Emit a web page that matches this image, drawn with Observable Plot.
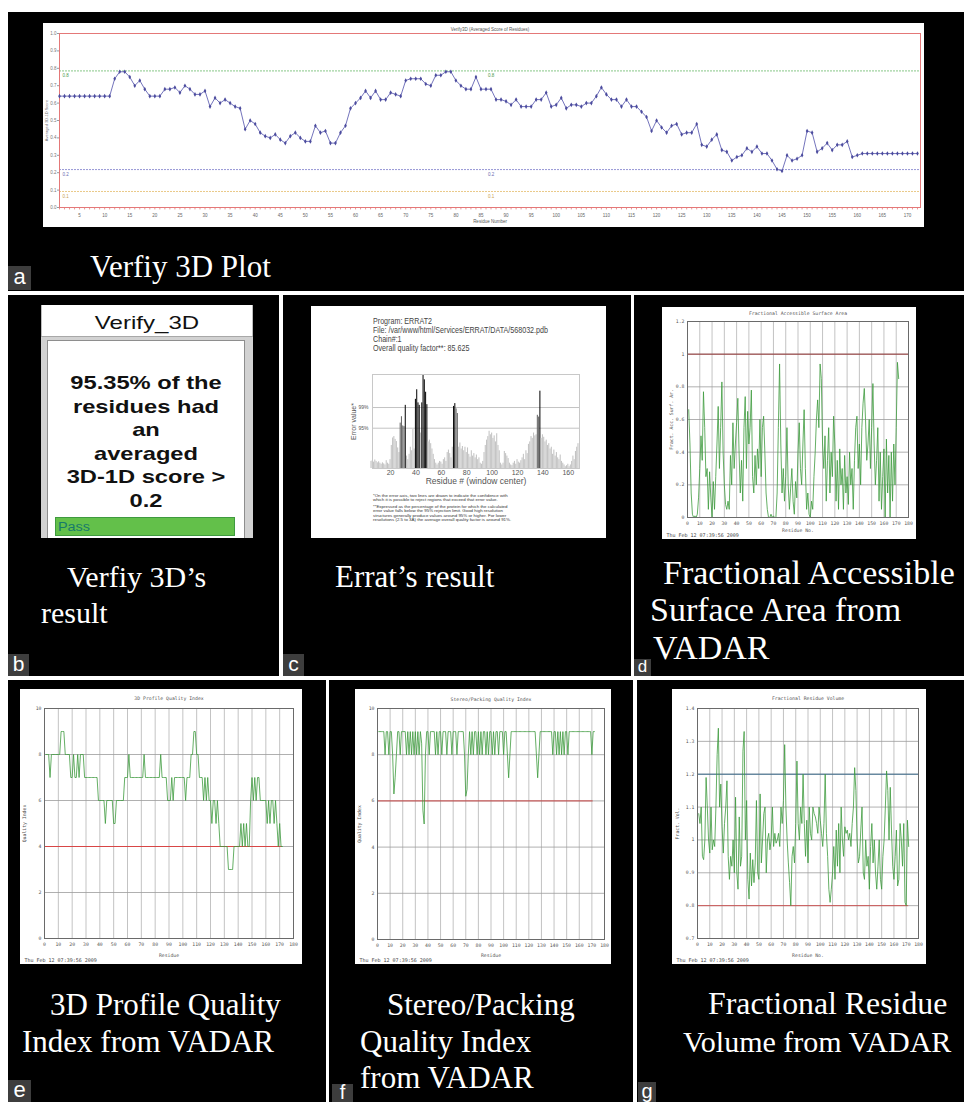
<!DOCTYPE html>
<html><head><meta charset="utf-8">
<script src="https://cdn.jsdelivr.net/npm/d3@7"></script>
<script src="https://cdn.jsdelivr.net/npm/@observablehq/plot@0.6"></script>
<style>
html,body{margin:0;padding:0;background:#fff;overflow:hidden;}
#page{position:relative;width:964px;height:1102px;overflow:hidden;background:#fff;}
</style></head>
<body><div id="page"></div>
<script>
// ---------- DATA ----------
// Panel a: Verify3D averaged 3D-1D score per residue (1..172)
const verifyScores = [0.64,0.64,0.64,0.64,0.64,0.64,0.64,0.64,0.64,0.64,0.64,
0.74,0.78,0.78,0.75,0.70,0.73,0.68,0.64,0.64,0.64,
0.68,0.68,0.69,0.66,0.70,0.68,0.65,0.65,0.67,0.58,
0.63,0.60,0.62,0.60,0.58,0.57,0.45,0.50,0.48,0.43,
0.41,0.40,0.42,0.39,0.37,0.41,0.43,0.40,0.38,0.38,
0.47,0.43,0.44,0.37,0.37,0.43,0.47,0.57,0.60,0.63,
0.67,0.63,0.67,0.62,0.62,0.66,0.65,0.64,0.73,0.74,
0.74,0.74,0.71,0.70,0.76,0.76,0.78,0.78,0.73,0.70,
0.68,0.68,0.75,0.68,0.68,0.68,0.62,0.62,0.61,0.59,
0.62,0.58,0.58,0.58,0.62,0.62,0.66,0.58,0.59,0.63,
0.57,0.59,0.59,0.58,0.60,0.60,0.64,0.69,0.65,0.62,
0.62,0.58,0.62,0.58,0.58,0.55,0.52,0.44,0.50,0.46,
0.43,0.47,0.48,0.42,0.43,0.43,0.48,0.36,0.35,0.39,
0.42,0.33,0.32,0.27,0.29,0.30,0.34,0.32,0.35,0.31,
0.31,0.27,0.22,0.21,0.30,0.27,0.28,0.30,0.44,0.43,
0.32,0.34,0.37,0.33,0.36,0.36,0.38,0.29,0.30,0.31,
0.31,0.31,0.31,0.31,0.31,0.31,0.31,0.31,0.31,0.31,0.31];
const verifyTicksY = [0,0.1,0.2,0.3,0.4,0.5,0.6,0.7,0.8,0.9,1.0];
const verifyTicksX = [5,10,15,20,25,30,35,40,45,50,55,60,65,70,75,80,85,90,95,100,105,110,115,120,125,130,135,140,145,150,155,160,165,170];
const verifyThresholds = [0.785, 0.218, 0.092];
const verifyThresholdLabels = ["0.8", "0.2", "0.1"];

// Panel b: Verify_3D result text
const verifyResultLines = ["95.35% of the", "residues had", "an", "averaged", "3D-1D score >", "0.2"];

// Panel c: ERRAT error values, window centres 5..168
const erratStart = 5;
const erratValues = [2.0,2.2,1.8,2.4,2.0,1.6,1.9,1.5,1.2,1.6,
1.3,1.0,2.2,1.5,1.2,2.5,6.5,8.6,9.0,8.2,
7.6,5.8,4.5,12.8,14.6,12.0,11.8,17.8,3.5,2.5,
4.0,6.0,5.0,11.0,5.5,19.5,22.2,18.5,17.8,10.0,
18.5,26.3,25.0,21.5,18.0,7.5,8.0,7.0,5.5,4.0,
2.5,1.5,1.0,1.5,2.0,1.8,1.2,2.5,3.0,2.0,
4.5,5.2,4.2,3.0,6.0,17.5,18.3,16.8,15.5,6.0,
7.2,5.5,6.2,5.0,6.0,4.5,5.8,4.0,3.2,5.0,
3.5,4.2,3.0,3.8,2.5,3.0,1.5,1.2,2.0,4.5,
6.5,8.0,9.0,10.5,9.5,10.0,8.5,9.2,7.5,9.8,
6.5,5.0,1.5,1.0,1.5,4.8,4.2,3.5,2.8,1.5,
1.0,0.8,1.5,2.0,1.2,2.5,1.8,1.5,2.2,3.0,
4.0,2.5,5.0,4.2,6.8,7.5,9.0,8.5,10.0,9.2,
9.5,15.0,14.5,21.8,8.5,9.5,8.8,7.5,8.0,6.5,
7.0,5.5,6.0,4.0,5.2,3.5,4.5,3.0,2.5,3.8,
2.0,1.5,1.0,0.5,0.8,1.2,0.5,1.0,2.0,3.5,
2.5,4.8,6.0,7.0];
const erratLimits = [11.36, 17.19];
const erratLimitLabels = ["95%", "99%"];
const erratTicksX = [20,40,60,80,100,120,140,160];
const erratHeader = ["Program: ERRAT2", "File: /var/www/html/Services/ERRAT/DATA/568032.pdb", "Chain#:1", "Overall quality factor**: 85.625"];
const erratNotes = ["*On the error axis, two lines are drawn to indicate the confidence with",
"which it is possible to reject regions that exceed that error value.",
"**Expressed as the percentage of the protein for which the calculated",
"error value falls below the 95% rejection limit. Good high resolution",
"structures generally produce values around 95% or higher. For lower",
"resolutions (2.5 to 3A) the average overall quality factor is around 91%."];

// Panel d: VADAR fractional accessible surface area (residues 1..172)
const fasaValues = [0.66,0.45,0.15,0.02,0.0,0.01,0.0,0.02,0.12,0.30,
0.50,0.35,0.77,0.55,0.25,0.30,0.05,0.28,0.12,0.0,
0.22,0.05,0.25,0.45,0.68,0.30,0.55,0.83,0.40,0.20,
0.08,0.05,0.10,0.05,0.38,0.20,0.58,0.30,0.45,0.58,
0.73,0.40,0.15,0.35,0.10,0.55,0.74,0.30,0.65,0.45,
0.55,0.78,0.25,0.15,0.38,0.20,0.42,0.30,0.60,0.25,
0.55,0.62,0.40,0.15,0.05,0.0,0.0,0.02,0.0,0.01,
0.0,0.0,0.15,0.55,0.94,0.45,0.15,0.30,0.10,0.25,
0.55,0.20,0.05,0.18,0.30,0.10,0.02,0.22,0.12,0.40,
0.58,0.30,0.20,0.45,0.66,0.30,0.05,0.15,0.02,0.0,
0.10,0.05,0.25,0.40,0.60,0.72,0.55,0.94,0.85,0.45,
0.30,0.50,0.10,0.35,0.55,0.15,0.40,0.25,0.62,0.45,
0.10,0.35,0.05,0.42,0.20,0.30,0.05,0.38,0.15,0.25,
0.08,0.40,0.20,0.30,0.05,0.35,0.55,0.62,0.30,0.45,
0.20,0.55,0.70,0.79,0.60,0.35,0.45,0.60,0.30,0.55,
0.82,0.45,0.20,0.35,0.55,0.10,0.40,0.05,0.25,0.42,
0.0,0.48,0.15,0.38,0.0,0.40,0.10,0.45,0.20,0.55,
0.95,0.85];

// Panel e: VADAR 3D profile quality index
const profileValues = [8,8,8,7,8,8,8,8,8,8,
8,9,9,9,8,8,8,8,7,7,
8,7,7,8,7,8,8,8,7,7,
7,7,7,7,7,7,7,7,6,6,
6,6,6,5,6,6,6,6,6,5,
5,6,6,6,6,6,6,7,7,7,
8,7,7,7,7,7,7,7,7,7,
7,8,7,7,7,7,7,7,7,7,
7,7,7,8,7,7,7,7,6,6,
6,7,6,7,7,7,7,7,7,7,
7,6,7,7,7,8,8,9,9,8,
8,7,7,7,6,7,6,7,6,6,
5,6,6,5,6,5,4,4,4,4,
4,4,3,3,3,3,4,4,4,4,
4,5,4,5,4,5,4,4,6,7,
6,7,6,7,7,6,6,6,6,6,
5,6,5,6,6,5,6,5,4,5,
4,4];

// Panel f: VADAR stereo/packing quality index
const stereoValues = [9,9,9,9,9,8,9,9,8,9,
9,8,6.3,7,8,9,9,8,9,9,
9,9,8,9,8,9,8,9,8,9,
8,9,8,9,8.5,5.6,5,8,9,9,
8,9,9,9,9,8,9,8,9,9,
8,9,9,9,8,9,9,9,8,9,
9,9,8,9,9,9,9,9,8,6.2,
6.5,8,9,8,9,8,9,9,8,9,
8,9,8,9,9,8,9,8,9,9,
8,9,8,9,9,8,9,9,9,8,
9,9,8,7,8,9,9,9,9,9,
9,9,9,9,9,9,9,9,9,9,
9,9,9,9,9,8,7,8,9,9,
9,9,9,9,9,9,9,9,8,9,
9,8,9,8,9,8,9,8,9,9,
8,9,9,9,9,9,9,9,9,9,
9,9,9,9,9,9,9,9,9,8,
9,9];

// Panel g: VADAR fractional residue volume
const volumeValues = [1.08,1.05,1.10,0.95,0.94,1.00,1.19,1.10,1.00,0.96,
1.10,0.97,1.00,0.98,1.10,1.26,1.34,1.10,1.17,1.04,
0.96,1.05,1.10,1.18,0.95,0.88,0.95,0.92,1.00,0.90,
1.13,0.90,0.85,1.07,0.92,0.95,1.27,1.33,1.00,1.12,
0.88,0.82,0.96,0.86,0.94,0.87,0.93,1.12,0.90,0.88,
1.14,0.93,1.00,1.08,1.10,0.90,1.00,1.02,0.97,1.00,
1.10,0.98,1.02,0.99,1.00,1.02,0.98,1.10,1.05,1.12,
1.29,1.10,1.00,0.93,0.87,0.80,0.95,0.98,0.93,1.05,
1.24,1.05,1.00,1.10,1.05,1.20,1.05,0.95,1.06,0.93,
1.10,1.02,1.00,1.10,1.08,1.07,1.05,1.02,1.10,1.06,
1.02,0.98,1.05,1.20,1.02,0.95,0.85,0.81,0.85,0.90,
0.98,0.88,1.03,0.92,1.05,0.90,1.10,1.00,0.95,1.04,
1.02,1.03,1.00,1.02,0.98,1.05,1.10,1.22,1.15,1.00,
0.93,0.95,1.03,1.10,0.90,0.88,1.00,0.92,0.95,0.85,
0.98,1.05,0.93,1.00,0.90,0.85,0.92,1.00,0.88,0.85,
0.95,1.00,1.10,1.21,1.15,1.00,1.16,1.03,0.92,0.88,
0.95,1.03,0.86,0.88,1.05,1.00,0.92,1.05,0.81,0.80,
1.06,0.98];

const vadarTicksX = [0,10,20,30,40,50,60,70,80,90,100,110,120,130,140,150,160,170,180];
const fasaTicksY = [0,0.2,0.4,0.6,0.8,1.0,1.2];
const qualityTicksY = [0,2,4,6,8,10];
const volumeTicksY = [0.7,0.8,0.9,1.0,1.1,1.2,1.3,1.4];
const vadarStamp = "Thu Feb 12 07:39:56 2009";

// ---------- HELPERS ----------
const page = document.getElementById("page");
function el(tag, css, parent = page) {
  const e = document.createElement(tag);
  Object.assign(e.style, {position: "absolute"}, css);
  parent.appendChild(e);
  return e;
}
function rect(x, y, w, h, css = {}) {
  return el("div", Object.assign({left: x + "px", top: y + "px", width: w + "px", height: h + "px"}, css));
}
function text(s, x, base, size, o = {}) {
  const fam = o.font || "'Liberation Serif','Times New Roman',serif";
  const d = el("div", {left: x + "px", top: (base - 0.84 * size) + "px", fontSize: size + "px", lineHeight: "1",
    fontFamily: fam, color: o.color || "#fff", whiteSpace: "pre", fontWeight: o.weight || "normal"});
  d.textContent = s;
  const sx = o.sx || 1;
  if (o.anchor === "middle") { d.style.transform = `translateX(-50%) scaleX(${sx})`; }
  else if (sx !== 1) { d.style.transformOrigin = "0 0"; d.style.transform = `scaleX(${sx})`; }
  return d;
}
function put(svg, x, y) {
  svg.style.position = "absolute"; svg.style.left = x + "px"; svg.style.top = y + "px"; svg.style.maxWidth = "none";
  page.appendChild(svg);
}
function tag(letter, x, y, w, h, size) {
  const d = rect(x, y, w, h, {background: "#3d3d3d", color: "#fff", fontFamily: "'Liberation Sans',Arial,sans-serif",
    fontSize: size + "px", lineHeight: (h - 2) + "px", textAlign: "center"});
  d.textContent = letter;
}
const fmt1 = d => String(+d.toFixed(1));

// ---------- BLACK PANELS ----------
rect(8, 12, 956, 279, {background: "#000"});
rect(8, 295, 271, 381, {background: "#000"});
rect(283, 295, 348, 381, {background: "#000"});
rect(634, 295, 330, 381, {background: "#000"});
rect(8, 680, 318, 422, {background: "#000"});
rect(329, 680, 304, 422, {background: "#000"});
rect(637, 680, 327, 422, {background: "#000"});

// ---------- PANEL a : Verify3D plot ----------
const verifyData = verifyScores.map((v, i) => ({r: i + 1, v}));
const thrColors = ["#78c078", "#8a8ad0", "#e8c47c"];
const thrText = ["#4a9a4a", "#6a6ab0", "#c8a050"];
const aMarks = [];
verifyThresholds.forEach((t, i) => {
  aMarks.push(Plot.ruleY([t], {stroke: thrColors[i], strokeWidth: 0.9, strokeDasharray: "2,1"}));
  aMarks.push(Plot.text([verifyThresholdLabels[i]], {text: d => d, y: () => t, frameAnchor: "left", dx: 3, dy: 5, fontSize: 4.5, fill: thrText[i], textAnchor: "start"}));
  aMarks.push(Plot.text([verifyThresholdLabels[i]], {text: d => d, y: () => t, frameAnchor: "middle", dx: -2, dy: 5, fontSize: 4.5, fill: thrText[i], textAnchor: "start"}));
});
const aPlot = Plot.plot({
  width: 881, height: 204, marginLeft: 16, marginRight: 4, marginTop: 10, marginBottom: 20,
  style: {background: "#fff", fontFamily: "'Liberation Sans',Arial,sans-serif", fontSize: "5px", color: "#666"},
  x: {domain: [1, 172.6], label: null}, y: {domain: [0, 1], label: null},
  marks: [
    ...aMarks,
    Plot.ruleX(verifyData, {x: "r", y1: () => 0, y2: () => -0.014, stroke: "#e47878", strokeWidth: 0.8}),
    Plot.frame({stroke: "#e47878", strokeWidth: 1}),
    Plot.axisY(verifyTicksY, {tickSize: 2, tickPadding: 1, tickFormat: d => d.toFixed(1), fontSize: 4.5, stroke: "#999", fill: "#777", label: null}),
    Plot.axisX(verifyTicksX, {tickSize: 0, tickPadding: 6, fontSize: 4.5, fill: "#666", label: null}),
    Plot.line(verifyData, {x: "r", y: "v", stroke: "#6464b4", strokeWidth: 0.9}),
    Plot.dot(verifyData, {x: "r", y: "v", r: 1.4, fill: "#4c4c9e", symbol: "diamond"}),
    Plot.text(["Verify3D (Averaged Score of Residues)"], {text: d => d, frameAnchor: "top", dy: -4, fontSize: 4.5, fill: "#555", lineAnchor: "middle"}),
    Plot.text(["Residue Number"], {text: d => d, frameAnchor: "bottom", dy: 14.5, fontSize: 4.5, fill: "#555", lineAnchor: "middle"}),
    Plot.text(["Averaged 3D-1D Score"], {text: d => d, frameAnchor: "left", dx: -13, rotate: -90, fontSize: 4, fill: "#777", textAnchor: "middle", lineAnchor: "middle"})
  ]
});
put(aPlot, 43, 23);
text("Verfiy 3D Plot", 90, 277, 31);
tag("a", 8, 266, 23, 24, 22);

// ---------- PANEL b : Verify_3D result box ----------
rect(41, 305, 212, 233, {background: "#fff", borderLeft: "1px solid #bdbdbd", borderRight: "1px solid #bdbdbd", boxSizing: "border-box"});
rect(41, 336, 212, 202, {background: "#d2d2d2", borderTop: "1px solid #a8a8a8", boxSizing: "border-box"});
rect(47, 340, 198, 198, {background: "#fff", border: "1px solid #8e8e8e", borderBottom: "none", boxSizing: "border-box"});
text("Verify_3D", 147, 330, 18.5, {font: "'Liberation Sans',Arial,sans-serif", color: "#111", anchor: "middle", sx: 1.3});
verifyResultLines.forEach((s, i) => {
  text(s, 146, 390 + i * 23.5, 18.5, {font: "'Liberation Sans',Arial,sans-serif", color: "#111", weight: "bold", anchor: "middle", sx: 1.28});
});
rect(55, 517, 180, 19, {background: "#63c04a", border: "1px solid #3f9a3f", boxSizing: "border-box"});
text("Pass", 58, 531, 12, {font: "'Liberation Sans',Arial,sans-serif", color: "#177a6a", sx: 1.2});
text("Verfiy 3D\u2019s", 67, 587, 30);
text("result", 41, 623, 30);
tag("b", 8, 654, 21, 22, 21);

// ---------- PANEL c : ERRAT ----------
const erratData = erratValues.map((v, i) => ({r: erratStart + i, v}));
const erratShade = v => v > erratLimits[1] ? "#111111" : v > erratLimits[0] ? "#6b6b6b" : "#c4c4c4";
const cPlot = Plot.plot({
  width: 295, height: 232, marginLeft: 61, marginRight: 27, marginTop: 68, marginBottom: 70,
  style: {background: "#fff", fontFamily: "'Liberation Sans',Arial,sans-serif", fontSize: "7px", color: "#555"},
  x: {domain: [5.8, 168.8], label: null}, y: {domain: [0, 26.5], label: null}, color: {type: "identity"},
  marks: [
    Plot.ruleY(erratLimits, {stroke: "#b4b4b4", strokeWidth: 0.8}),
    Plot.rectY(erratData, {x1: d => d.r - 0.5, x2: d => d.r + 0.5, y: "v", fill: d => erratShade(d.v), insetLeft: 0.1, insetRight: 0.1}),
    Plot.frame({stroke: "#c8c8c8"}),
    Plot.axisX(erratTicksX, {tickSize: 0, tickPadding: 1.5, fontSize: 7, fill: "#555", label: null}),
    Plot.axisY(erratLimits, {tickSize: 0, tickPadding: 4, tickFormat: d => erratLimitLabels[erratLimits.indexOf(d)], fontSize: 5, fill: "#555", label: null}),
    Plot.text(["Residue # (window center)"], {text: d => d, frameAnchor: "bottom", dy: 12.5, fontSize: 8.5, fill: "#555", lineAnchor: "middle"}),
    Plot.text(["Error value*"], {text: d => d, frameAnchor: "left", dx: -19, rotate: -90, fontSize: 7, fill: "#555", textAnchor: "middle", lineAnchor: "middle"})
  ]
});
put(cPlot, 311, 306);
erratHeader.forEach((s, i) => text(s, 373, 324 + i * 9, 8.5, {font: "'Liberation Sans',Arial,sans-serif", color: "#444", sx: 0.84}));
erratNotes.forEach((s, i) => text(s, 373, 497.5 + i * 4.6 + (i >= 2 ? 1.6 : 0), 4.4, {font: "'Liberation Sans',Arial,sans-serif", color: "#333"}));
text("Errat\u2019s result", 335, 587, 31);
tag("c", 283, 654, 21, 22, 21);

// ---------- VADAR charts ----------
function vadarPlot(o) {
  const data = o.values.map((v, i) => ({r: i + 1, v}));
  const refMarks = o.refs.map(([v, c, end]) => Plot.ruleY([v], {x1: () => 0, x2: () => end, stroke: c, strokeWidth: 1}));
  return Plot.plot({
    width: o.width, height: o.height, marginLeft: o.ml, marginRight: o.mr, marginTop: o.mt, marginBottom: o.mb,
    style: {background: "#fff", fontFamily: "'DejaVu Sans Mono',monospace", fontSize: "5px", color: "#555"},
    x: {domain: [0, 180], label: null}, y: {domain: o.yDomain, label: null},
    marks: [
      Plot.ruleX(vadarTicksX, {stroke: "#b4b4b4", strokeWidth: 0.8}),
      Plot.ruleY(o.yTicks, {stroke: "#9c9c9c", strokeWidth: 0.8}),
      ...refMarks,
      Plot.line(data, {x: "r", y: "v", stroke: "#3e9a3e", strokeWidth: 0.8}),
      Plot.frame({stroke: "#6a6a6a"}),
      Plot.axisX(vadarTicksX, {tickSize: 0, tickPadding: 4.5, fontSize: 4.8, fill: "#555", label: null}),
      Plot.axisY(o.yTicks, {tickSize: 0, tickPadding: 3, tickFormat: fmt1, fontSize: 4.8, fill: "#555", label: null}),
      Plot.text([o.title], {text: d => d, frameAnchor: "top", dy: o.titleDy, fontSize: 4.8, fill: "#555", lineAnchor: "middle"}),
      Plot.text([o.xTitle], {text: d => d, frameAnchor: "bottom", dy: o.xTitleDy, fontSize: 4.8, fill: "#555", lineAnchor: "middle"}),
      Plot.text([o.yTitle], {text: d => d, frameAnchor: "left", dx: o.yTitleDx, rotate: -90, fontSize: 4.8, fill: "#555", textAnchor: "middle", lineAnchor: "middle"}),
      Plot.text([vadarStamp], {text: d => d, frameAnchor: "bottom-left", dx: -(o.ml - 4), dy: o.mb - 3, fontSize: 5, fill: "#444", textAnchor: "start", lineAnchor: "bottom"})
    ]
  });
}

// Panel d
put(vadarPlot({values: fasaValues, width: 254, height: 232, ml: 25, mr: 8, mt: 14, mb: 22,
  yDomain: [0, 1.2], yTicks: fasaTicksY, refs: [[1, "#9a3a3a", 180]],
  title: "Fractional Accessible Surface Area", titleDy: -8, xTitle: "Residue No.", xTitleDy: 13,
  yTitle: "Fract. Acc. Surf. Ar.", yTitleDx: -16}), 662, 307);
text("Fractional Accessible", 663, 585, 34);
text("Surface Area from", 650, 622, 34);
text("VADAR", 653, 660, 34);
tag("d", 634, 659, 17, 17, 17);

// Panel e
put(vadarPlot({values: profileValues, width: 282, height: 275, ml: 24, mr: 9, mt: 19, mb: 26,
  yDomain: [0, 10], yTicks: qualityTicksY, refs: [[4, "#d84646", 172]],
  title: "3D Profile Quality Index", titleDy: -10, xTitle: "Residue", xTitleDy: 17,
  yTitle: "Quality Index", yTitleDx: -20}), 20, 689);
text("3D Profile Quality", 50, 1015, 31);
text("Index from VADAR", 22, 1052, 31);
tag("e", 8, 1080, 23, 22, 22);

// Panel f
put(vadarPlot({values: stereoValues, width: 256, height: 275, ml: 22, mr: 7, mt: 19, mb: 25,
  yDomain: [0, 10], yTicks: qualityTicksY, refs: [[6, "#cc4848", 171]],
  title: "Stereo/Packing Quality Index", titleDy: -9, xTitle: "Residue", xTitleDy: 16,
  yTitle: "Quality Index", yTitleDx: -18}), 355, 689);
text("Stereo/Packing", 387, 1015, 31);
text("Quality Index", 360, 1052, 31);
text("from VADAR", 360, 1088, 31);
tag("f", 332, 1084, 21, 18, 20);

// Panel g
put(vadarPlot({values: volumeValues, width: 254, height: 275, ml: 25, mr: 8, mt: 19, mb: 26,
  yDomain: [0.7, 1.4], yTicks: volumeTicksY, refs: [[1.2, "#3f6f8f", 180], [0.8, "#cc5858", 172]],
  title: "Fractional Residue Volume", titleDy: -10, xTitle: "Residue No.", xTitleDy: 17,
  yTitle: "Fract. Vol.", yTitleDx: -20}), 672, 689);
text("Fractional Residue", 708, 1015, 31.8);
text("Volume from VADAR", 683, 1052, 30);
tag("g", 638, 1082, 18, 20, 20);
</script></body></html>
